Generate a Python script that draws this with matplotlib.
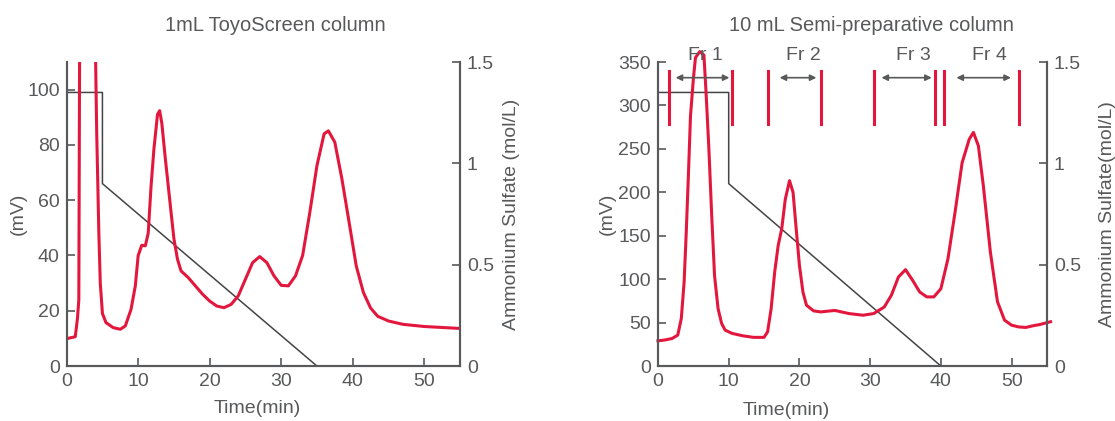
import matplotlib.pyplot as plt
import numpy as np

plt.rcParams['font.family'] = ['Liberation Sans', 'DejaVu Sans']

RED = '#e3173d'
GRAY = '#58595b'
LINE = '#444444'

# 1 mL ToyoScreen column (mV vs min)
t1 = [0, 1.2, 1.5, 1.7, 1.8, 1.9, 4.0, 4.05, 4.2, 4.5, 4.7, 5.0, 5.5, 6.5, 7.5, 8.2, 9.0, 9.6,
      10.0, 10.5, 11.0, 11.4, 11.8, 12.2, 12.7, 13.0, 13.3, 13.8, 14.5, 15.0, 15.5, 16.0,
      17.0, 18.0, 19.0, 20.0, 21.0, 22.0, 23.0, 24.0, 25.0, 26.0, 27.0, 28.0, 29.0, 30.0,
      31.0, 32.0, 33.0, 34.0, 35.0, 36.0, 36.6, 37.5, 38.5, 39.5, 40.5, 41.5, 42.5, 43.5,
      45.0, 47.0, 50.0, 55.0]
mv1 = [9.9, 10.6, 17, 24, 108, 150, 150, 110, 84.5, 48, 30, 19, 15.7, 13.9, 13.3, 14.5, 20.5, 29,
       40, 43.7, 43.5, 48, 65, 78.5, 91, 92.4, 88, 75, 58, 46, 38.6, 34.4,
       32, 29, 26, 23.5, 21.7, 21.1, 22.3, 25.4, 31.4, 37.4, 39.6, 37.4, 32.6, 29.2,
       29, 32.6, 40, 55.5, 72.5, 84, 85.1, 81, 67.6, 52, 36.2, 26.6, 21, 18,
       16.3, 15.1, 14.3, 13.6]
grad1_t = [0, 5, 5, 35]
grad1_c = [1.35, 1.35, 0.9, 0]

# 10 mL Semi-preparative column
t2 = [0, 1, 2, 2.8, 3.3, 3.7, 4.0, 4.3, 4.6, 5.0, 5.3, 5.9, 6.5, 6.8, 7.2, 7.6, 8.0, 8.5, 9.0,
      9.5, 10.5, 12.0, 13.5, 15.0, 15.5, 16.0, 16.5, 17.0, 17.5, 18.0, 18.6, 19.1, 19.5,
      20.0, 20.5, 21.0, 22.0, 23.0, 25.0, 27.0, 29.0, 30.5, 32.0, 33.0, 34.0, 35.0, 36.0,
      37.0, 38.0, 39.0, 40.0, 41.0, 42.0, 43.0, 44.0, 44.6, 45.3, 46.0, 47.0, 48.0, 49.0,
      50.0, 51.0, 52.0, 53.0, 54.0, 55.5]
mv2 = [29, 30, 31.7, 35.6, 54.7, 96.8, 154, 219, 288, 330, 355, 362, 358, 315, 250, 173, 104, 66, 49,
       41.3, 37.5, 34.8, 33, 33, 39.4, 66, 108, 139, 158, 192, 213.4, 200, 162,
       116, 85, 70, 63.5, 62.3, 64, 60.4, 58.5, 60.4, 68, 81.5, 102.5, 111, 98.7,
       85.3, 79.6, 79.6, 89, 123.5, 177, 234, 261, 269, 253.6, 207.7, 131, 74, 52.8,
       47, 45, 44.4, 46.3, 47.8, 51]
grad2_t = [0, 10, 10, 40]
grad2_c = [1.35, 1.35, 0.9, 0]

# fraction cut marks and labels
cuts = [1.6, 10.4, 15.6, 23.0, 30.5, 39.1, 40.5, 51.0]
frac_labels = ['Fr 1', 'Fr 2', 'Fr 3', 'Fr 4']
frac_ranges = [(2.5, 10.1), (17.2, 22.4), (31.6, 38.7), (42.2, 49.9)]
frac_text_x = [6.7, 20.6, 36.1, 46.8]

FS = 14


def style(ax, ax2, ylim, yticks, rlabel):
    ax.set_xlim(0, 55)
    ax.set_ylim(*ylim)
    ax.set_yticks(yticks)
    ax.set_xticks(range(0, 60, 10))
    ax2.set_ylim(0, 1.5)
    ax2.set_yticks([0, 0.5, 1, 1.5])
    ax2.set_yticklabels(['0', '0.5', '1', '1.5'])
    for a in (ax, ax2):
        a.spines['top'].set_visible(False)
        for s in ('left', 'right', 'bottom'):
            a.spines[s].set_color(GRAY)
            a.spines[s].set_linewidth(1.5)
        a.tick_params(direction='in', colors=GRAY, labelsize=FS, width=1.2, length=6,
                      labelcolor=GRAY, pad=5)
    ax.set_xlabel('Time(min)', fontsize=FS, color=GRAY)
    ax.set_ylabel('(mV)', fontsize=FS, color=GRAY)
    ax2.set_ylabel(rlabel, fontsize=FS, color=GRAY)


fig = plt.figure(figsize=(11.15, 4.21), dpi=100)

# left panel
ax1 = fig.add_axes([0.0598, 0.1306, 0.3527, 0.722])
ax1r = ax1.twinx()
ax1r.plot(grad1_t, grad1_c, color=LINE, lw=1.1)
ax1.set_zorder(ax1r.get_zorder() + 1)
ax1.patch.set_visible(False)
ax1.plot(t1, mv1, color=RED, lw=2.2)
style(ax1, ax1r, (0, 110), [0, 20, 40, 60, 80, 100], 'Ammonium Sulfate (mol/L)')
ax1.xaxis.set_label_coords(0.484, -0.112)
ax1.yaxis.set_label_coords(-0.101, 0.5)
ax1r.yaxis.set_label_coords(1.11, 0.5)
fig.text(0.2466, 0.94, '1mL ToyoScreen column', ha='center', va='center', fontsize=14.5, color=GRAY)

# right panel
ax2 = fig.add_axes([0.5901, 0.1306, 0.3489, 0.722])
ax2r = ax2.twinx()
ax2r.plot(grad2_t, grad2_c, color=LINE, lw=1.1)
ax2.set_zorder(ax2r.get_zorder() + 1)
ax2.patch.set_visible(False)
ax2.plot(t2, mv2, color=RED, lw=2.2, clip_on=False)
style(ax2, ax2r, (0, 350), [0, 50, 100, 150, 200, 250, 300, 350], 'Ammonium Sulfate(mol/L)')
ax2.xaxis.set_label_coords(0.33, -0.118)
ax2.yaxis.set_label_coords(-0.108, 0.5)
ax2r.yaxis.set_label_coords(1.133, 0.5)
fig.text(0.782, 0.94, '10 mL Semi-preparative column', ha='center', va='center', fontsize=14.5, color=GRAY)

for c in cuts:
    ax2.plot([c, c], [279, 340], color=RED, lw=2.2, clip_on=False)
for lab, (a, b), tx in zip(frac_labels, frac_ranges, frac_text_x):
    ax2.annotate('', xy=(a, 332), xytext=(b, 332),
                 arrowprops=dict(arrowstyle='<|-|>', color=GRAY, lw=1.2, mutation_scale=9,
                                 shrinkA=0, shrinkB=0))
    ax2.text(tx, 358, lab, ha='center', va='center', fontsize=FS, color=GRAY, clip_on=False)

fig.savefig('out.png', dpi=100)
